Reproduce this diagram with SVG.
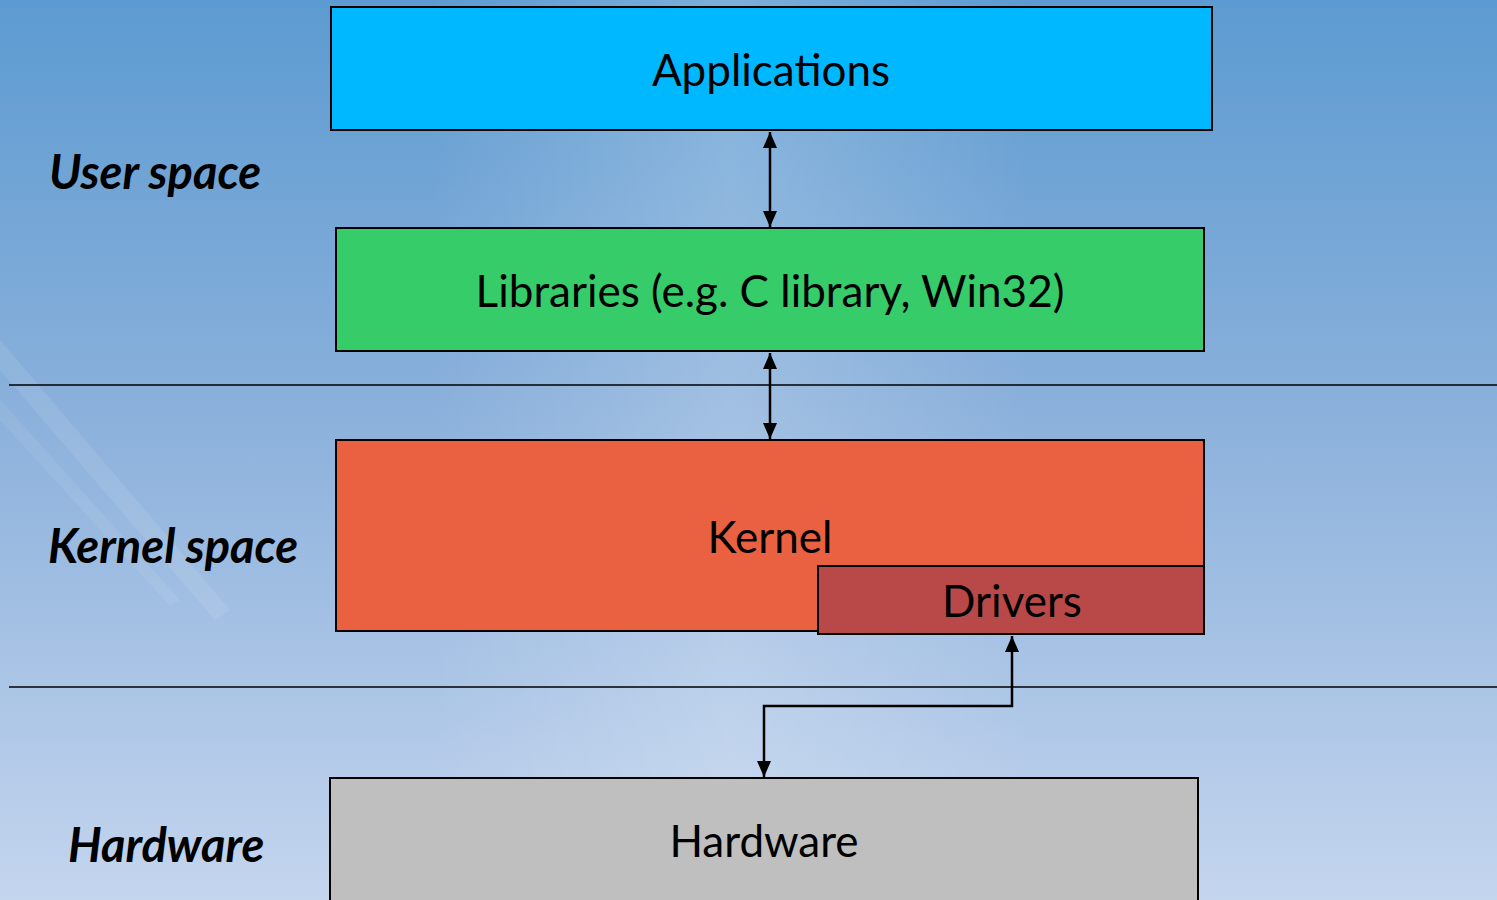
<svg xmlns="http://www.w3.org/2000/svg" width="1497" height="900" viewBox="0 0 1497 900">
  <defs>
    <linearGradient id="bg" x1="0" y1="0" x2="0" y2="1">
      <stop offset="0" stop-color="#5c9bd1"/>
      <stop offset="0.45" stop-color="#8ab0db"/>
      <stop offset="1" stop-color="#c4d5ee"/>
    </linearGradient>
    <linearGradient id="glow" x1="0" y1="0" x2="1" y2="0">
      <stop offset="0" stop-color="#ffffff" stop-opacity="0"/>
      <stop offset="0.5" stop-color="#ffffff" stop-opacity="0.2"/>
      <stop offset="1" stop-color="#ffffff" stop-opacity="0"/>
    </linearGradient>
    <marker id="arrow" viewBox="0 0 16 14" refX="16" refY="7" markerWidth="16" markerHeight="14" markerUnits="userSpaceOnUse" orient="auto-start-reverse">
      <path d="M0,0 L16,7 L0,14 z" fill="#000"/>
    </marker>
    <style>
      .box { stroke: #000; stroke-width: 2; }
      .label { font-family: Lato, "Open Sans", "DejaVu Sans", sans-serif; font-size: 44px; fill: #000; text-anchor: middle; }
      .side { font-family: Lato, "Open Sans", "DejaVu Sans", sans-serif; font-size: 47px; font-weight: bold; font-style: italic; fill: #000; }
      .conn { fill: none; stroke: #000; stroke-width: 2.5; }
      .rule { stroke: #000; stroke-width: 1.5; }
    </style>
  </defs>

  <!-- backdrop -->
  <rect width="1497" height="900" fill="url(#bg)"/>
  <g>
    <rect x="430" y="0" width="600" height="900" fill="url(#glow)"/>
    <path d="M0,340 L230,610 L215,620 L0,370 z" fill="#ffffff" opacity="0.09"/>
    <path d="M0,400 L180,600 L170,606 L0,420 z" fill="#ffffff" opacity="0.07"/>
  </g>

  <!-- layer separators -->
  <g id="separators">
    <line class="rule" x1="9" y1="385" x2="1497" y2="385"/>
    <line class="rule" x1="9" y1="687" x2="1497" y2="687"/>
  </g>

  <!-- layer captions -->
  <g id="captions">
    <text class="side" x="49" y="189">User space</text>
    <text class="side" x="48" y="563">Kernel space</text>
    <text class="side" x="68" y="862">Hardware</text>
  </g>

  <g id="applications">
    <rect class="box" x="331" y="7" width="881" height="123" fill="#00b8ff"/>
    <text class="label" x="771" y="86">Applications</text>
  </g>

  <g id="libraries">
    <rect class="box" x="336" y="228" width="868" height="123" fill="#36cc6a"/>
    <text class="label" x="770" y="307">Libraries (e.g. C library, Win32)</text>
  </g>

  <g id="kernel">
    <rect class="box" x="336" y="440" width="868" height="191" fill="#ea6141"/>
    <text class="label" x="770" y="553">Kernel</text>
  </g>

  <g id="drivers">
    <rect class="box" x="818" y="566" width="386" height="68" fill="#b94848"/>
    <text class="label" x="1012" y="617">Drivers</text>
  </g>

  <g id="hardware">
    <rect class="box" x="330" y="778" width="868" height="130" fill="#bfbfbf"/>
    <text class="label" x="764" y="857">Hardware</text>
  </g>

  <!-- connectors -->
  <g id="connectors">
    <line class="conn" x1="770" y1="132" x2="770" y2="227" marker-start="url(#arrow)" marker-end="url(#arrow)"/>
    <line class="conn" x1="770" y1="353" x2="770" y2="439" marker-start="url(#arrow)" marker-end="url(#arrow)"/>
    <polyline class="conn" points="1012,636 1012,706 764,706 764,777" marker-start="url(#arrow)" marker-end="url(#arrow)"/>
  </g>
</svg>
